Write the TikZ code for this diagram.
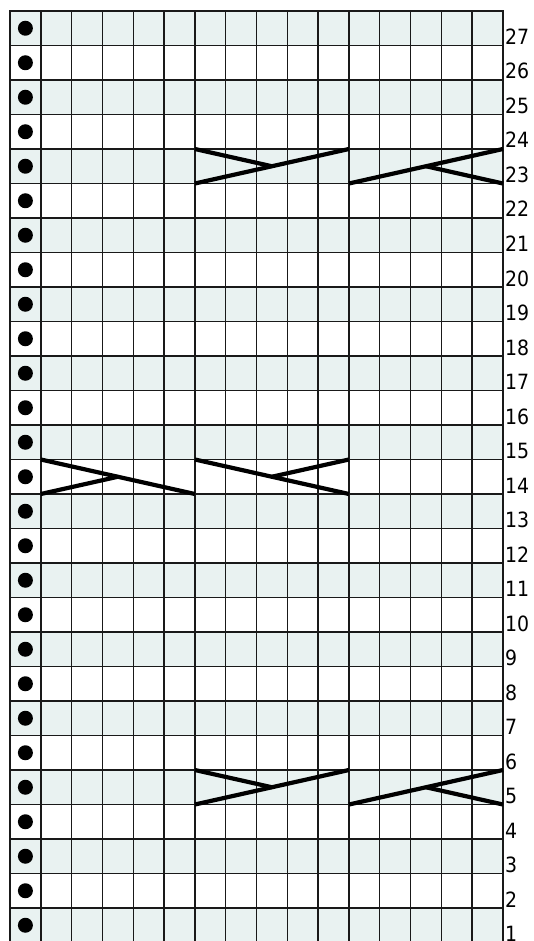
\documentclass[tikz,border=0pt]{standalone}
\usepackage{fontspec}
\setmainfont{DejaVu Sans Condensed}
\definecolor{rowshade}{RGB}{233,242,241}
\definecolor{gridc}{RGB}{25,25,25}
\tikzset{
  gridline/.style={draw=gridc, line width=1.4pt},
  cableline/.style={draw=black, line width=4.2pt},
  rowlabel/.style={anchor=base west, inner sep=0pt, font=\fontsize{21}{21}\selectfont, text=black},
}
\begin{document}
\begin{tikzpicture}[x=1pt,y=-1pt]
\useasboundingbox (0,0) rectangle (533,941);
\clip (0,0) rectangle (533,941);
\fill[white] (0,0) rectangle (533,941);
% shaded (odd) rows
\foreach \i in {0,2,...,26} \fill[rowshade] (10,{11+\i*34.5}) rectangle (503,{11+\i*34.5+34.5});
% grid
\foreach \j in {0,...,16} \draw[gridline] ({10+\j*30.8125},11) -- ({10+\j*30.8125},942.5);
\foreach \i in {0,...,27} \draw[gridline] (9.3,{11+\i*34.5}) -- (503.7,{11+\i*34.5});
% dots
\foreach \i in {0,...,26} \fill[black] (25.4,{28.25+\i*34.5}) circle (7.5);
% row numbers
\foreach \i in {0,...,26} {
  \pgfmathtruncatemacro\n{27-\i}
  \node[rowlabel] (lab\n) at (505,{11+\i*34.5+33.5}) {\n};
}
% cables row 23 (top 149, bottom 183.5)
\draw[cableline] (194.875,183.5) -- (348.94,149);
\draw[cableline] (194.875,149) -- (271.9,166.25);
\draw[cableline] (348.94,183.5) -- (503,149);
\draw[cableline] (503,183.5) -- (425.97,166.25);
% cables row 14 (top 459.5, bottom 494)
\draw[cableline] (40.81,459.5) -- (194.875,494);
\draw[cableline] (40.81,494) -- (117.84,476.75);
\draw[cableline] (194.875,459.5) -- (348.94,494);
\draw[cableline] (348.94,459.5) -- (271.9,476.75);
% cables row 5 (top 770, bottom 804.5)
\draw[cableline] (194.875,804.5) -- (348.94,770);
\draw[cableline] (194.875,770) -- (271.9,787.25);
\draw[cableline] (348.94,804.5) -- (503,770);
\draw[cableline] (503,804.5) -- (425.97,787.25);
\end{tikzpicture}
\end{document}
